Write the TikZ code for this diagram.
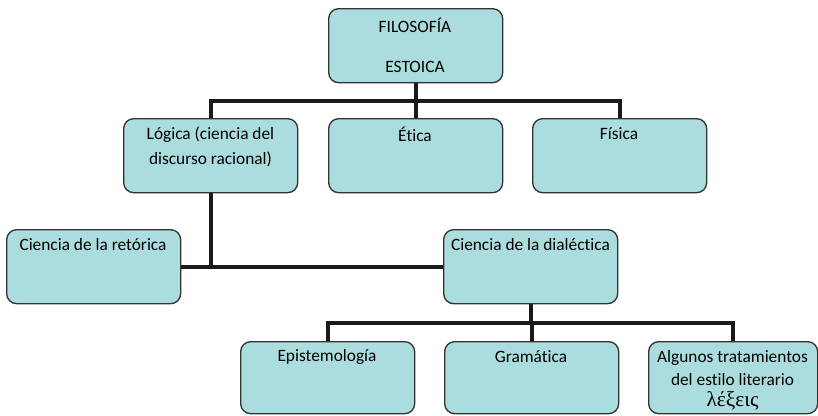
\documentclass[tikz,border=0pt]{standalone}
\usepackage{fontspec}
\setmainfont{Carlito}[Ligatures=NoCommon]
\newfontfamily\greekfont{Liberation Serif}
\usetikzlibrary{backgrounds}
\definecolor{boxfill}{RGB}{172,221,222}
\definecolor{boxline}{RGB}{50,50,50}
\tikzset{
  box/.style={draw=boxline, line width=1pt, fill=boxfill, rounded corners=7.5pt,
    minimum width=130.5pt, minimum height=55.5pt, inner sep=0pt, anchor=north west},
  txt/.style={font=\fontsize{13}{18.75}\selectfont, align=center, inner sep=0pt, anchor=center},
  conn/.style={line width=3pt, draw=black!90, line cap=rect}
}
\begin{document}
\begin{tikzpicture}[x=0.75pt,y=-0.75pt]
\useasboundingbox (0,0) rectangle (818,415);
% boxes
\node[box] (fil) at (328,8) {};
\node[box] (log) at (123,118) {};
\node[box] (eti) at (328,118) {};
\node[box] (fis) at (532,118) {};
\node[box] (ret) at (6,229) {};
\node[box] (dia) at (443,229) {};
\node[box, minimum height=54pt] (epi) at (240,341) {};
\node[box, minimum height=54pt] (gra) at (444,341) {};
\node[box, minimum height=54pt, minimum width=126.75pt] (alg) at (648,341) {};
% texts
\node[txt] (t1) at (415,25) {FILOSOFÍA};
\node[txt] (t2) at (415,67) {ESTOICA};
\node[txt] (t3) at (210.5,146.5) {Lógica (ciencia del\\discurso racional)};
\node[txt] (t4) at (415,134) {Ética};
\node[txt] (t5) at (619,134) {Física};
\node[txt] (t6) at (93,245) {Ciencia de la retórica};
\node[txt] (t7) at (530.5,245) {Ciencia de la dialéctica};
\node[txt] (t8) at (327,357) {Epistemología};
\node[txt] (t9) at (531,357) {Gramática};
\node[txt, font=\fontsize{13}{17}\selectfont] (t10) at (732.5,368) {Algunos tratamientos\\del estilo literario};
\node[txt, font=\greekfont\fontsize{16}{17}\selectfont] (t11) at (732.5,401) {λέξεις};
% connectors
\coordinate (bar1) at (0,101);
\coordinate (bar2) at (0,267);
\coordinate (bar3) at (0,323);
\begin{scope}[on background layer]
\draw[conn] (fil.south) -- (fil.south |- bar1);
\draw[conn] (log.north |- bar1) -- (fis.north |- bar1);
\draw[conn] (log.north |- bar1) -- (log.north);
\draw[conn] (eti.north |- bar1) -- (eti.north);
\draw[conn] (fis.north |- bar1) -- (fis.north);
\draw[conn] (log.south) -- (log.south |- bar2);
\draw[conn] (ret.east |- bar2) -- (dia.west |- bar2);
\draw[conn] (dia.south) -- (dia.south |- bar3);
\draw[conn] (epi.north |- bar3) -- (alg.north |- bar3);
\draw[conn] (epi.north |- bar3) -- (epi.north);
\draw[conn] (gra.north |- bar3) -- (gra.north);
\draw[conn] (alg.north |- bar3) -- (alg.north);
\end{scope}
\end{tikzpicture}
\end{document}
